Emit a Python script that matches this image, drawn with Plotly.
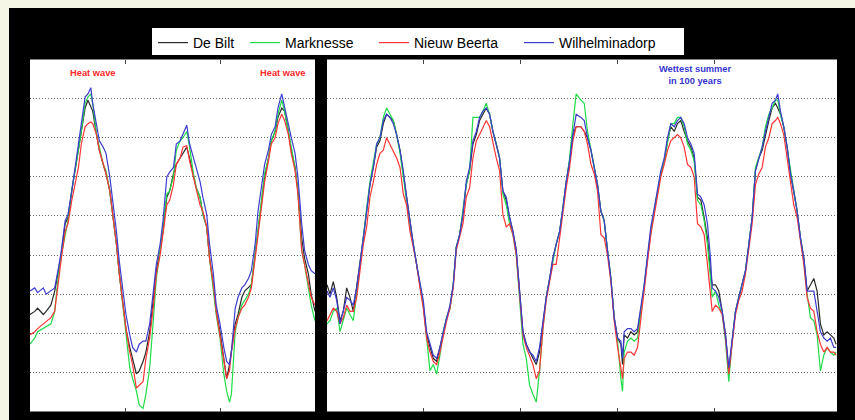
import plotly.graph_objects as go

# ---------------- data (soil temperature, degC) ----------------
# left panel: time in years from start of panel
t_left = [0.00,0.05,0.08,0.14,0.17,0.22,0.26,0.30,0.33,0.37,0.40,0.44,0.47,0.51,0.54,0.58,0.61,0.64,0.66,0.70,
          0.73,0.77,0.80,0.84,0.87,0.91,0.94,0.98,1.01,1.05,1.08,1.12,1.15,1.19,1.22,1.26,1.30,1.33,1.37,1.40,
          1.44,1.47,1.51,1.54,1.58,1.61,1.65,1.68,1.72,1.75,1.79,1.82,1.86,1.89,1.93,1.96,2.00,2.04,2.07,2.10,
          2.12,2.16,2.19,2.23,2.26,2.30,2.33,2.37,2.40,2.44,2.47,2.51,2.54,2.58,2.61,2.65,2.68,2.72,2.75,2.79,
          2.82,2.86,2.89,2.93,2.96,3.00]
debilt_left = [6.2,6.4,6.6,6.2,6.4,6.8,7.7,9.0,10.0,12.0,12.4,14.1,15.2,16.7,17.9,19.4,19.9,19.4,19.2,17.7,
               16.7,15.8,15.2,14.1,12.6,10.7,8.8,6.8,5.3,4.1,3.4,2.4,2.6,3.2,3.8,5.1,7.3,9.0,10.3,11.5,
               13.7,14.1,15.2,15.8,16.2,16.5,16.9,16.2,15.0,14.3,13.7,12.6,11.8,9.8,8.1,6.4,5.1,3.4,2.1,3.0,
               3.8,5.6,6.2,7.3,7.7,7.9,8.1,10.0,11.5,13.7,15.0,16.2,17.3,17.9,18.8,19.4,19.2,17.9,16.7,15.6,
               14.1,11.1,9.8,8.8,7.5,6.4]
wilhelminadorp_left = [7.7,7.9,7.6,7.9,7.5,7.7,7.9,9.2,10.3,12.2,12.6,14.1,15.4,16.9,18.2,20.1,20.3,20.7,19.7,18.4,
                       17.3,16.9,16.5,15.0,13.5,11.5,9.6,7.7,6.2,4.9,4.1,3.8,4.3,4.5,4.5,5.6,7.9,9.4,10.7,12.2,
                       15.0,15.3,15.6,17.1,17.3,17.7,18.3,17.1,16.2,15.6,14.7,13.7,12.6,10.7,8.8,6.8,5.6,4.1,3.2,3.0,
                       3.8,6.6,7.3,7.9,8.1,8.5,9.0,10.7,12.8,14.5,15.8,16.7,17.7,18.2,19.4,20.3,19.4,18.4,17.5,16.5,
                       15.0,12.0,10.3,9.4,9.0,8.8]
nieuwbeerta_left = [4.9,5.1,5.3,5.6,5.8,6.0,6.4,8.5,9.8,11.5,12.0,13.5,14.5,15.6,17.1,18.2,18.4,18.5,18.4,17.7,
                    16.7,15.8,15.2,14.1,12.6,10.7,8.8,6.8,5.3,3.8,3.0,1.5,1.7,1.9,3.4,4.7,6.8,8.8,10.0,11.3,
                    13.2,13.5,14.5,15.8,16.2,16.9,17.0,16.0,15.0,14.3,13.2,12.8,11.8,9.8,8.1,6.4,4.9,3.4,2.1,2.6,
                    3.8,5.3,6.0,6.6,6.8,7.3,7.9,9.8,11.3,13.5,14.7,16.0,17.1,17.5,18.4,19.0,18.6,17.7,16.5,15.4,
                    13.9,10.3,9.4,8.1,7.3,6.8]
marknesse_left = [4.3,4.7,5.1,5.3,5.4,5.6,6.4,8.8,10.0,11.3,12.2,14.2,15.2,16.7,17.9,19.7,20.1,20.3,19.7,17.7,
                  16.9,15.8,15.4,14.1,12.6,10.7,8.8,6.6,5.1,2.8,2.1,1.3,0.4,0.2,1.1,2.8,6.0,8.5,10.3,11.8,
                  13.9,14.1,15.0,16.7,17.3,17.5,17.9,16.9,15.2,14.3,13.7,12.6,11.8,9.8,7.9,6.2,4.7,2.4,1.3,0.6,
                  1.1,5.1,6.0,6.8,7.1,7.5,8.1,10.0,11.5,13.7,15.2,16.2,17.3,17.9,19.0,19.9,19.2,17.9,16.7,15.6,
                  14.1,10.3,9.4,7.9,6.8,5.8]

# right panel: time in years from start of panel
t_right = [0.000,0.031,0.065,0.100,0.134,0.168,0.203,0.237,0.271,0.306,0.340,0.375,0.409,0.443,0.478,0.512,0.546,0.581,0.615,0.649,
           0.684,0.718,0.753,0.787,0.821,0.856,0.890,0.924,0.959,0.993,1.027,1.062,1.096,1.131,1.165,1.199,1.234,1.268,1.302,1.333,
           1.368,1.402,1.436,1.471,1.505,1.540,1.574,1.608,1.643,1.677,1.711,1.746,1.780,1.814,1.849,1.883,1.918,1.952,1.986,2.021,
           2.055,2.089,2.124,2.158,2.192,2.227,2.261,2.296,2.330,2.364,2.399,2.433,2.467,2.502,2.536,2.570,2.619,2.653,2.687,2.722,
           2.756,2.790,2.825,2.859,2.893,2.928,2.962,2.997,3.031,3.048,3.065,3.100,3.134,3.168,3.203,3.237,3.271,3.306,3.340,3.375,
           3.409,3.443,3.478,3.512,3.546,3.581,3.615,3.649,3.684,3.718,3.753,3.787,3.821,3.856,3.890,3.924,3.955,3.973,4.007,4.041,
           4.076,4.110,4.144,4.179,4.213,4.247,4.282,4.316,4.351,4.385,4.419,4.454,4.488,4.522,4.557,4.591,4.625,4.649,4.677,4.711,
           4.746,4.780,4.814,4.849,4.883,4.918,4.952,4.986,5.021,5.055,5.089,5.124,5.158,5.192,5.227,5.251]
debilt_right = [8.1,7.5,8.3,7.3,5.8,6.4,7.9,7.3,6.4,7.9,9.4,11.1,12.8,14.5,15.6,16.9,17.3,18.4,19.0,18.8,
                18.6,17.7,16.7,15.2,13.7,12.0,10.7,9.4,8.1,6.8,4.9,4.1,3.4,3.2,4.1,5.1,6.0,6.6,8.1,10.5,
                11.3,12.6,14.5,15.4,17.1,17.7,18.6,19.0,19.4,19.0,17.9,17.1,16.2,14.1,13.5,12.4,11.5,10.3,7.7,5.1,
                4.3,3.8,3.4,3.0,3.8,5.6,7.3,8.5,9.8,10.7,11.5,13.0,14.7,16.0,17.7,18.2,18.2,17.9,17.5,16.7,
                15.6,14.5,12.8,12.2,10.3,8.5,6.0,4.7,4.3,3.0,4.9,4.7,5.1,4.9,5.1,6.4,7.9,9.8,11.5,12.8,
                13.9,15.2,16.0,17.3,18.2,17.9,18.4,18.6,17.9,17.3,16.9,16.2,13.7,13.5,12.4,11.1,9.0,8.1,8.1,7.7,
                6.4,4.9,2.6,4.7,6.4,7.3,8.1,9.0,10.7,12.4,15.4,16.2,16.7,17.7,18.6,19.4,19.7,19.4,19.0,18.2,
                16.9,15.2,14.1,12.8,11.1,9.8,7.7,8.1,8.5,7.7,5.6,4.9,5.1,4.9,4.7,4.3]
wilhelminadorp_right = [7.7,7.3,7.9,7.1,5.6,6.4,7.3,7.1,6.8,7.9,9.4,11.1,12.8,14.5,15.6,17.1,17.5,18.6,19.0,18.8,
                        18.4,17.7,16.7,15.4,13.7,12.0,10.7,9.4,8.1,7.1,5.1,4.3,3.6,3.4,4.1,5.1,6.0,6.8,8.1,10.5,
                        11.3,12.6,14.7,15.6,17.3,17.9,18.8,19.2,19.4,19.0,17.9,17.1,16.2,14.1,13.7,12.4,11.5,10.3,7.7,5.1,
                        4.3,3.8,3.6,3.2,4.1,5.8,7.3,8.5,9.8,10.7,11.5,13.0,14.7,16.0,17.7,19.0,18.8,18.6,17.5,16.7,
                        15.6,14.5,12.8,12.2,10.3,8.5,6.0,4.7,4.5,3.4,5.1,5.3,5.3,5.1,5.3,6.6,8.1,10.0,11.8,13.0,
                        14.1,15.4,16.2,17.5,18.4,18.2,18.6,18.8,18.4,17.5,17.1,16.5,13.9,13.7,13.2,12.0,9.8,7.9,7.7,7.3,
                        6.4,4.9,2.8,4.7,6.4,7.3,8.1,9.0,10.7,12.4,15.4,16.2,16.9,17.9,18.8,19.7,19.9,20.3,19.2,18.2,
                        16.9,15.2,14.1,12.8,11.1,9.8,7.7,7.7,7.7,6.4,5.1,4.7,4.5,4.7,4.1,4.1]
nieuwbeerta_right = [5.8,6.2,6.6,6.4,5.6,6.0,6.8,6.4,6.4,7.3,9.0,10.7,11.8,13.7,14.7,15.8,16.5,16.7,17.5,17.1,
                     16.7,16.2,15.6,13.9,13.2,11.5,10.5,9.4,7.9,6.6,4.7,3.8,3.2,3.0,3.8,4.9,5.8,6.6,7.9,10.3,
                     11.1,12.0,13.7,14.3,16.2,17.3,17.7,18.2,18.6,18.2,17.1,16.2,15.4,12.6,11.8,12.0,11.3,10.0,7.5,4.9,
                     4.1,3.6,3.0,2.1,2.6,5.3,7.1,8.3,9.4,9.4,11.1,12.6,14.3,15.6,17.3,18.2,18.2,17.9,17.1,15.8,
                     15.2,14.1,11.3,11.1,10.0,8.3,5.8,4.1,2.6,2.1,3.4,3.8,3.8,3.6,4.1,6.0,7.7,9.6,11.3,12.6,
                     13.7,15.0,15.8,16.7,17.3,17.5,17.7,17.5,16.9,15.8,15.6,15.0,12.0,11.8,11.3,9.4,7.3,6.4,6.8,6.6,
                     6.2,4.7,2.4,4.5,6.2,7.1,7.7,8.8,10.5,12.0,14.5,15.2,15.6,16.9,17.5,18.4,18.6,18.8,18.4,17.7,
                     16.2,14.7,13.2,12.4,10.9,9.4,7.3,6.6,6.4,5.1,4.3,3.8,4.1,3.8,3.8,3.6]
marknesse_right = [5.6,5.8,6.4,6.6,5.1,5.8,6.6,6.2,5.8,7.5,9.4,11.1,13.0,14.7,15.8,17.1,17.5,18.8,19.4,19.0,
                   18.6,17.7,16.5,15.0,13.5,11.8,10.7,9.4,8.1,6.8,4.7,2.6,3.0,2.4,3.6,5.1,6.0,6.6,8.1,10.5,
                   11.3,12.8,14.5,15.4,18.8,18.8,18.8,19.2,19.7,19.0,17.9,17.1,16.2,13.9,13.2,12.0,11.3,10.0,7.3,4.3,
                   3.4,1.7,1.1,0.6,2.6,5.3,7.3,8.5,9.8,10.7,11.5,13.0,14.7,16.2,18.4,20.3,19.9,19.7,17.9,16.7,
                   15.6,14.5,12.8,12.2,10.3,8.5,6.0,4.5,2.1,1.3,3.8,4.5,4.7,4.5,4.7,6.4,7.9,9.8,11.5,12.8,
                   13.9,15.2,16.0,17.3,18.4,18.4,18.8,18.8,18.2,17.1,16.7,16.0,13.5,13.2,12.2,10.7,8.8,7.3,7.7,6.8,
                   6.2,4.5,1.9,4.5,6.4,7.3,8.1,9.0,10.7,12.4,15.6,16.2,16.9,18.2,19.0,19.4,19.9,19.9,19.0,18.2,
                   16.9,15.4,14.1,12.8,11.1,9.6,7.5,6.0,5.8,4.9,2.6,3.6,4.1,3.8,3.6,3.8]

station_names = ["De Bilt", "Marknesse", "Nieuw Beerta", "Wilhelminadorp"]
station_colors = ["#2a2a2a", "#1fdc46", "#ff3535", "#3c3ccf"]
left_series = [debilt_left, marknesse_left, nieuwbeerta_left, wilhelminadorp_left]
right_series = [debilt_right, marknesse_right, nieuwbeerta_right, wilhelminadorp_right]

year_ticks_left = [1, 2]
year_ticks_right = [1, 2, 3, 4]
temp_grid = [2.5, 5, 7.5, 10, 12.5, 15, 17.5, 20]

# ---------------- figure ----------------
W, H = 855, 420
def px(x):
    return x / W
def py(y):
    return 1 - y / H

legend_ids = ["legend", "legend2", "legend3", "legend4"]
legend_x = [153, 245, 374, 519]   # left edge of each legend entry (pixels)

fig = go.Figure()
for name, col, ys, lid in zip(station_names, station_colors, left_series, legend_ids):
    fig.add_trace(go.Scatter(x=t_left, y=ys, mode="lines", name=name,
                             line=dict(color=col, width=1.2), xaxis="x", yaxis="y",
                             legendgroup=name, legend=lid))
for name, col, ys in zip(station_names, station_colors, right_series):
    fig.add_trace(go.Scatter(x=t_right, y=ys, mode="lines", name=name,
                             line=dict(color=col, width=1.2), xaxis="x2", yaxis="y2",
                             legendgroup=name, showlegend=False))

xcommon = dict(showgrid=False, zeroline=False, showticklabels=False, ticks="inside",
               ticklen=4, tickwidth=1, tickcolor="#444", mirror="ticks", showline=False)
ycommon = dict(range=[0, 22.5], tickvals=temp_grid, showgrid=True, gridcolor="#666666",
               griddash="1px,2px", gridwidth=1, zeroline=False, showticklabels=False, ticks="")

legend_font = dict(family="Liberation Sans, Arial, sans-serif", size=14, color="black")
legends = {}
for lid, lx in zip(legend_ids, legend_x):
    legends[lid] = dict(orientation="h", x=px(lx), y=py(27), xanchor="left", yanchor="top",
                        bgcolor="rgba(0,0,0,0)", borderwidth=0, font=legend_font)

ann_font = "Liberation Sans, Arial, sans-serif"
fig.update_layout(
    width=W, height=H, autosize=False,
    margin=dict(l=0, r=0, t=0, b=0),
    paper_bgcolor="black", plot_bgcolor="white",
    xaxis=dict(domain=[px(30), px(315)], range=[0, 3], tickvals=year_ticks_left, anchor="y", **xcommon),
    yaxis=dict(domain=[py(411.5), py(59.5)], anchor="x", **ycommon),
    xaxis2=dict(domain=[px(327), px(837)], range=[0, 5.26], tickvals=year_ticks_right, anchor="y2", **xcommon),
    yaxis2=dict(domain=[py(411.5), py(59.5)], anchor="x2", **ycommon),
    showlegend=True,
    shapes=[
        dict(type="rect", xref="paper", yref="paper", x0=0, x1=px(9), y0=0, y1=1,
             fillcolor="#f6f6e6", line=dict(width=0), layer="below"),
        dict(type="rect", xref="paper", yref="paper", x0=0, x1=1, y0=py(8), y1=1,
             fillcolor="#f6f6e6", line=dict(width=0), layer="below"),
        dict(type="rect", xref="paper", yref="paper", x0=px(152), x1=px(684), y0=py(55), y1=py(28),
             fillcolor="white", line=dict(width=0), layer="below"),
    ],
    annotations=[
        dict(text="<b>Heat wave</b>", xref="paper", yref="paper", x=px(92), y=py(73),
             xanchor="center", yanchor="middle", showarrow=False,
             font=dict(family=ann_font, size=9.3, color="#ff2a2a")),
        dict(text="<b>Heat wave</b>", xref="paper", yref="paper", x=px(282), y=py(73),
             xanchor="center", yanchor="middle", showarrow=False,
             font=dict(family=ann_font, size=9.3, color="#ff2a2a")),
        dict(text="<b>Wettest summer<br>in 100 years</b>", xref="paper", yref="paper", x=px(695), y=py(75),
             xanchor="center", yanchor="middle", showarrow=False,
             font=dict(family=ann_font, size=9.3, color="#3535d0")),
    ],
    **legends,
)

fig.write_html("out.html", config={"displayModeBar": False},
               post_script="document.body.style.margin='0px';document.body.style.background='#f6f6e6';")
